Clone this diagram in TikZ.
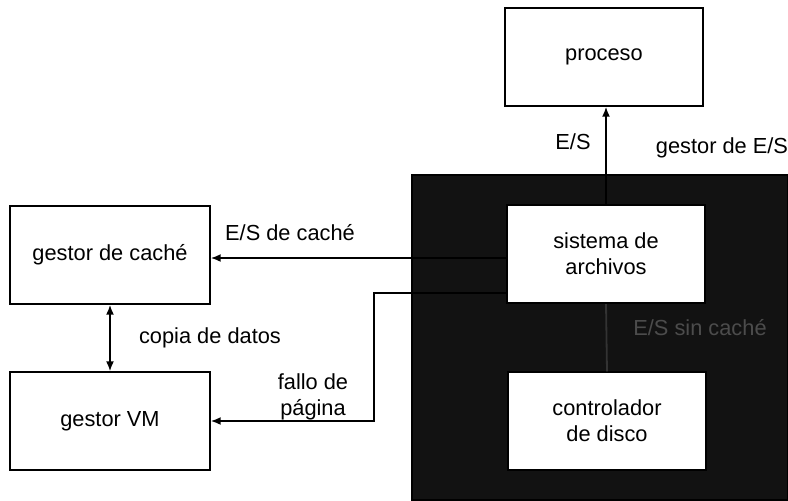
\documentclass[tikz,border=0pt]{standalone}
\usepackage{fontspec}
\setmainfont{Liberation Sans}
\usetikzlibrary{arrows.meta,calc}
\begin{document}
\begin{tikzpicture}[x=0.5pt,y=-0.5pt,
  box/.style={draw,fill=white,line width=0.7pt,minimum width=99pt,minimum height=49pt,inner sep=0pt,align=center,font=\fontsize{10.9}{13}\selectfont},
  conn/.style={line width=0.9pt,-{Latex[length=5pt,width=4pt]}},
  lbl/.style={font=\fontsize{10.9}{13}\selectfont,align=center,inner sep=1pt}]
\useasboundingbox (0,0) rectangle (788,500);
% dark I/O manager region
\node[fill=black!93,draw=black,line width=0.6pt,minimum width=188pt,minimum height=162.5pt,inner sep=0pt] (iomgr) at (600,337.5) {};
\node[lbl,text=black!70] (nocache) at (700,328) {E/S sin caché};
% boxes
\node[box] (proc) at (604,57) {proceso};
\node[box] (fs) at (606,254) {sistema de\\archivos};
\node[box] (dd) at (607,421) {controlador\\de disco};
\node[box,minimum width=100pt] (cache) at (110,255) {gestor de caché};
\node[box,minimum width=100pt] (vm) at (110,421) {gestor VM};
% connectors
\draw[line width=0.9pt,black!80] (fs.south) -- (dd.north);
\draw[conn] (fs.north) -- (fs.north |- proc.south);
\coordinate (c1) at ($(fs.west)+(0,4)$);
\draw[conn] (c1) -- (c1 -| cache.east);
\coordinate (p1) at ($(fs.west)+(0,39)$);
\draw[conn] (p1) -- ++(-132,0) |- (vm.east);
\draw[line width=0.9pt,{Latex[length=5pt,width=4pt]}-{Latex[length=5pt,width=4pt]}] (cache.south) -- (vm.north);
% redraw box over line ends
\node[box] at (fs) {sistema de\\archivos};
% labels
\node[lbl] (l1) at (573,142) {E/S};
\node[lbl] (l2) at (722,148) {gestor de E/S};
\node[lbl] (l3) at (290,233) {E/S de caché};
\node[lbl] (l4) at (210,338) {copia de datos};
\node[lbl] (l5) at (313,397) {fallo de\\página};
\end{tikzpicture}
\end{document}
